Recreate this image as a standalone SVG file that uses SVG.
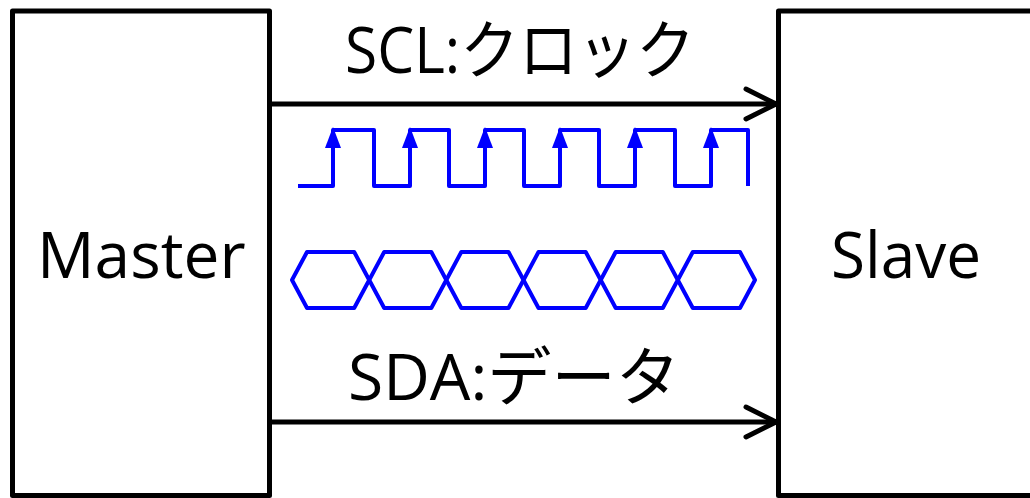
<svg xmlns="http://www.w3.org/2000/svg" width="1030" height="498" viewBox="0 0 1030 498">
  <style>
    .box { fill: #ffffff; stroke: #000000; stroke-width: 5; stroke-linejoin: round; }
    .label { font-family: "Open Sans", "Noto Sans CJK JP", sans-serif; font-size: 64px; fill: #000000; }
    .bus { stroke: #000000; stroke-width: 5; fill: none; }
    .wave { stroke: #0000ff; stroke-width: 4; fill: none; stroke-linejoin: round; }
    .edge { fill: #0000ff; stroke: none; }
  </style>
  <defs>
    <marker id="chev" markerUnits="userSpaceOnUse" viewBox="-36 -20 40 40" refX="0" refY="0" markerWidth="40" markerHeight="40" orient="auto" overflow="visible">
      <path d="M-30,-15 L0,0 L-30,15" fill="none" stroke="#000000" stroke-width="5" stroke-linecap="round" stroke-linejoin="round"/>
    </marker>
    <polygon id="rise" points="0,-3 -8,18 8,18"/>
  </defs>

  <g id="master">
    <rect class="box" x="12.5" y="11" width="257" height="484.5"/>
    <text class="label" x="37" y="278">Master</text>
  </g>

  <g id="slave">
    <rect class="box" x="778.5" y="11" width="262" height="484.5"/>
    <text class="label" x="831" y="278" textLength="150" lengthAdjust="spacingAndGlyphs">Slave</text>
  </g>

  <g id="connectors">
    <line class="bus" x1="270" y1="104" x2="776" y2="104" marker-end="url(#chev)"/>
    <line class="bus" x1="270" y1="422" x2="776" y2="422" marker-end="url(#chev)"/>
  </g>

  <g id="scl-label">
    <text class="label" x="345" y="73" textLength="350" lengthAdjust="spacingAndGlyphs">SCL:クロック</text>
  </g>

  <g id="sda-label">
    <text class="label" x="348" y="400" textLength="332" lengthAdjust="spacingAndGlyphs">SDA:データ</text>
  </g>

  <!-- clock waveform with arrows on rising edges -->
  <g id="clock">
    <path class="wave" d="M298,186 H333 V130 H374 V186 H410 V130 H449 V186 H485 V130 H524 V186 H560 V130 H599 V186 H635 V130 H675 V186 H711 V130 H748 V186"/>
    <g class="edge">
      <use href="#rise" x="333" y="130"/>
      <use href="#rise" x="410" y="130"/>
      <use href="#rise" x="485" y="130"/>
      <use href="#rise" x="560" y="130"/>
      <use href="#rise" x="635" y="130"/>
      <use href="#rise" x="711" y="130"/>
    </g>
  </g>

  <!-- data eye pattern -->
  <g id="data" class="wave">
    <polygon points="292,280 307,252 354.2,252 369.2,280 354.2,308 307,308"/>
    <polygon points="369.2,280 384.2,252 431.3,252 446.3,280 431.3,308 384.2,308"/>
    <polygon points="446.3,280 461.3,252 508.5,252 523.5,280 508.5,308 461.3,308"/>
    <polygon points="523.5,280 538.5,252 585.7,252 600.7,280 585.7,308 538.5,308"/>
    <polygon points="600.7,280 615.7,252 662.8,252 677.8,280 662.8,308 615.7,308"/>
    <polygon points="677.8,280 692.8,252 740,252 755,280 740,308 692.8,308"/>
  </g>
</svg>
